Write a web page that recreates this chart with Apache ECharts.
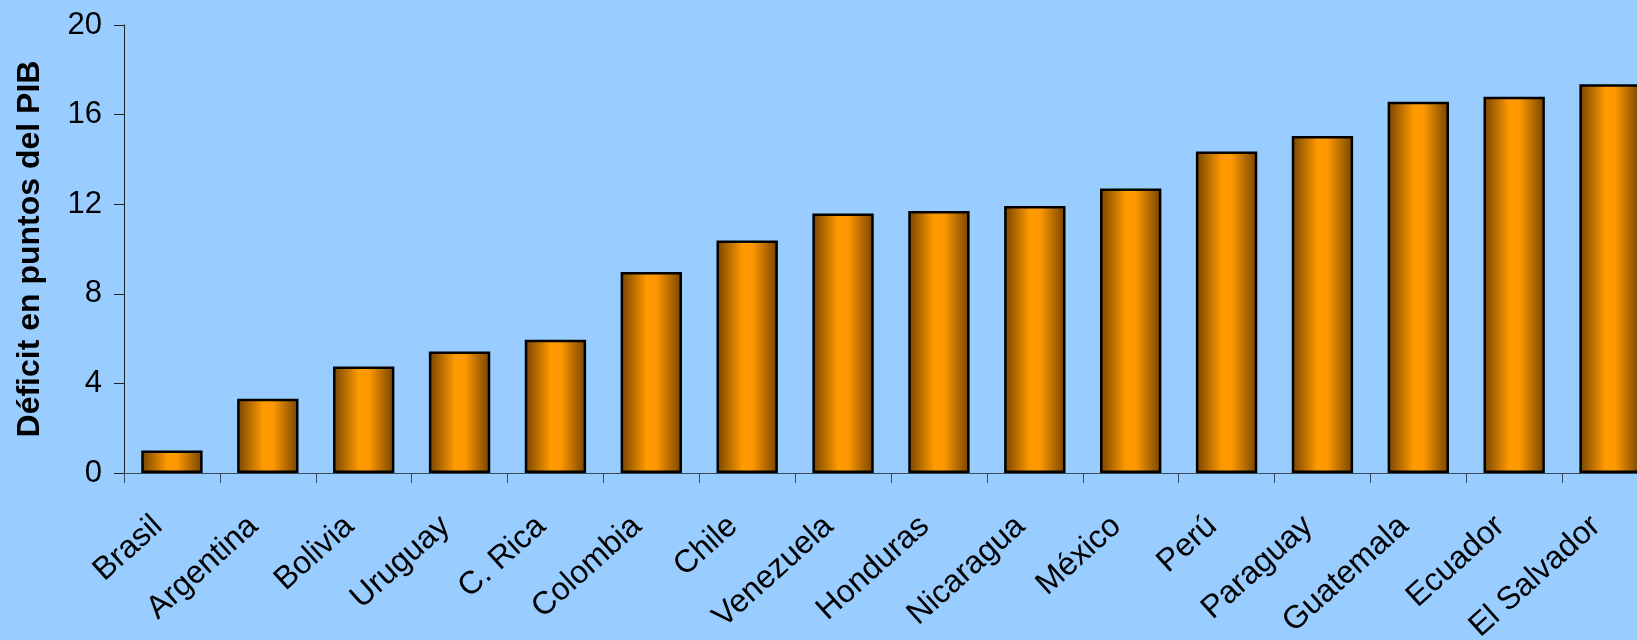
<!DOCTYPE html>
<html>
<head>
<meta charset="utf-8">
<script src="https://cdn.jsdelivr.net/npm/echarts@6/dist/echarts.min.js"></script>
<style>
html,body{margin:0;padding:0;background:#99CCFF;}
#chart{width:1637px;height:640px;}
</style>
</head>
<body>
<div id="chart"></div>
<script>
const categories = ["Brasil","Argentina","Bolivia","Uruguay","C. Rica","Colombia","Chile","Venezuela","Honduras","Nicaragua","México","Perú","Paraguay","Guatemala","Ecuador","El Salvador"];
const deficit = [1.0, 3.32, 4.75, 5.42, 5.95, 8.97, 10.38, 11.58, 11.7, 11.92, 12.7, 14.35, 15.05, 16.57, 16.8, 17.36];
const yAxisTitle = "Déficit en puntos del PIB";

const FONT = 'Arial, "Liberation Sans", sans-serif';
const chart = echarts.init(document.getElementById('chart'), null, {renderer:'canvas'});
chart.setOption({
  backgroundColor: '#99CCFF',
  animation: false,
  grid: {left: 124, top: 25, width: 1534, height: 448, containLabel: false, outerBoundsMode: 'none'},
  xAxis: {
    type: 'category',
    data: categories,
    axisLine: {lineStyle: {color: '#3a4a5a', width: 1}},
    axisTick: {show: true, length: 10, lineStyle: {color: '#3a4a5a'}},
    axisLabel: {interval: 0, rotate: 42, margin: 36, padding: [0, 19, 0, 0], fontSize: 32, color: '#000', fontFamily: FONT}
  },
  yAxis: {
    type: 'value',
    min: 0, max: 20, interval: 4,
    name: yAxisTitle,
    nameLocation: 'middle',
    nameGap: 78,
    nameTextStyle: {fontSize: 32, fontWeight: 'bold', color: '#000', fontFamily: FONT},
    axisLine: {show: true, lineStyle: {color: '#222', width: 1}},
    axisTick: {show: true, length: 10, lineStyle: {color: '#222'}},
    splitLine: {show: false},
    axisLabel: {margin: 22, fontSize: 31, color: '#000', fontFamily: FONT}
  },
  series: [{
    type: 'bar',
    data: deficit,
    barWidth: '64%',
    itemStyle: {
      borderColor: '#000',
      borderWidth: 2.5,
      color: new echarts.graphic.LinearGradient(0, 0, 1, 0, [
        {offset: 0, color: '#744300'},
        {offset: 0.42, color: '#ff9900'},
        {offset: 0.58, color: '#ff9900'},
        {offset: 1, color: '#744300'}
      ])
    }
  }]
});
</script>
</body>
</html>
